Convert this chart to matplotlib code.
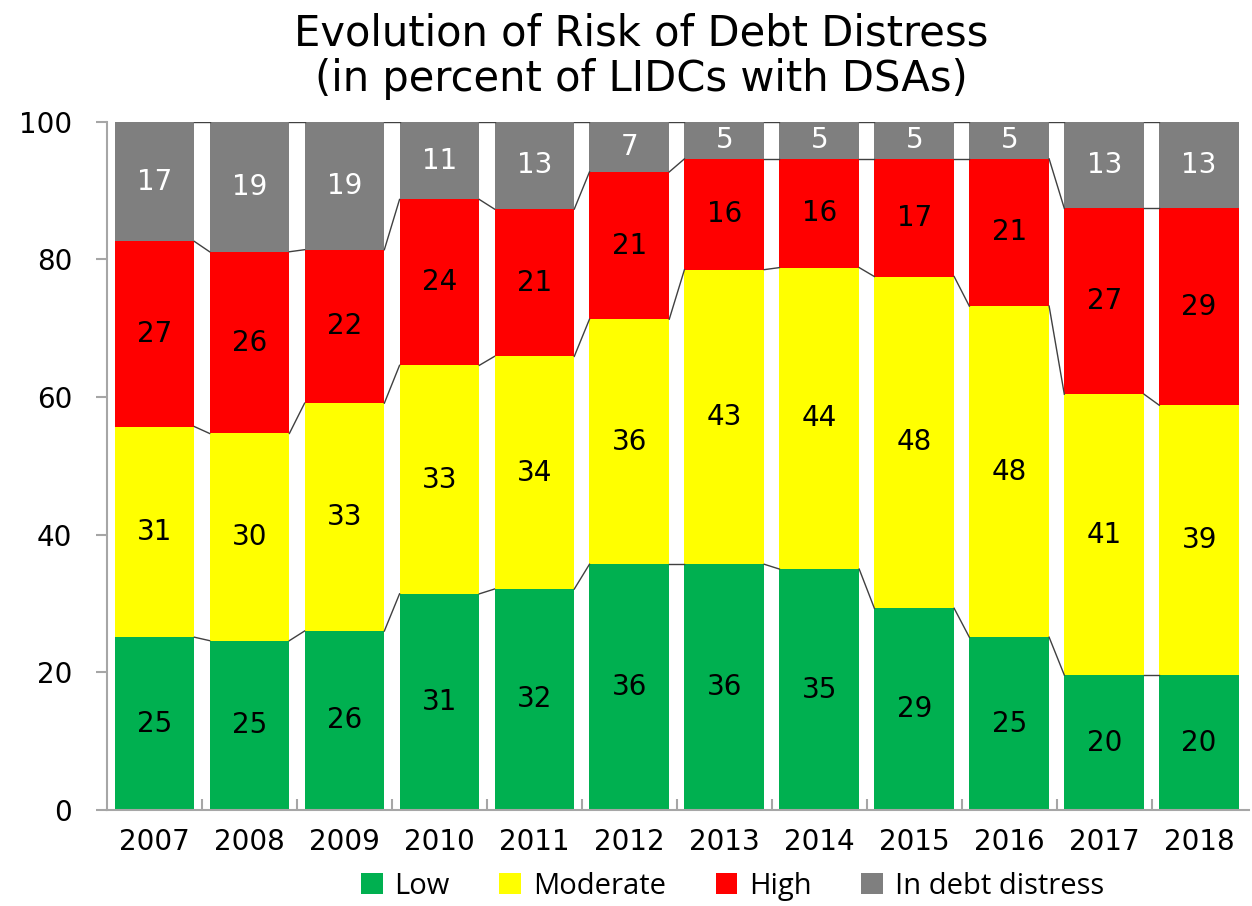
import numpy as np
import matplotlib.pyplot as plt
from matplotlib.patches import Patch

YEARS = ["2007", "2008", "2009", "2010", "2011", "2012",
         "2013", "2014", "2015", "2016", "2017", "2018"]
LOW = [25.1, 24.6, 26.0, 31.4, 32.1, 35.7, 35.7, 35.0, 29.3, 25.1, 19.6, 19.6]
MODERATE = [30.6, 30.1, 33.1, 33.2, 33.8, 35.6, 42.8, 43.8, 48.2, 48.1, 40.8, 39.2]
HIGH = [26.9, 26.4, 22.3, 24.1, 21.4, 21.4, 16.1, 15.8, 17.1, 21.4, 27.0, 28.6]
DISTRESS = [17.4, 18.9, 18.6, 11.3, 12.7, 7.3, 5.4, 5.4, 5.4, 5.4, 12.6, 12.6]

SERIES = ["Low", "Moderate", "High", "In debt distress"]
COLORS = ["#00B050", "#FFFF00", "#FF0000", "#7F7F7F"]
LABEL_COLORS = ["black", "black", "black", "white"]
WIDTH = 0.84


def run() -> None:
    fig = plt.figure(figsize=(12.52, 9.06), dpi=100)
    ax = fig.add_axes((0.0855, 0.106, 0.9125, 0.7597))

    x = np.arange(len(YEARS))
    data = [LOW, MODERATE, HIGH, DISTRESS]
    bottom = np.zeros(len(YEARS))
    tops = []
    for vals, col, lcol in zip(data, COLORS, LABEL_COLORS):
        vals = np.array(vals)
        ax.bar(x, vals, WIDTH, bottom=bottom, color=col, zorder=2)
        for xi, b, v in zip(x, bottom, vals):
            ax.text(xi, b + v / 2, f"{v:.0f}", ha="center", va="center",
                    fontsize=20, color=lcol, zorder=4)
        bottom = bottom + vals
        tops.append(bottom.copy())

    # Excel-style series lines between bars
    for top in tops:
        for i in range(len(YEARS) - 1):
            ax.plot([x[i] + WIDTH / 2, x[i + 1] - WIDTH / 2],
                    [top[i], top[i + 1]], color="#404040", lw=1, zorder=3)

    ax.set_xlim(-0.5, len(YEARS) - 0.47)
    ax.set_ylim(0, 100)
    ax.set_yticks([0, 20, 40, 60, 80, 100])
    ax.set_xticks(x, labels=YEARS)
    ax.set_xticks(x[:-1] + 0.5, minor=True)

    for side in ["top", "right"]:
        ax.spines[side].set_visible(False)
    for side in ["left", "bottom"]:
        ax.spines[side].set_color("#A6A6A6")
        ax.spines[side].set_linewidth(1.5)

    ax.tick_params(axis="y", length=8, width=1.5, color="#A6A6A6",
                   labelsize=20, pad=17)
    ax.tick_params(axis="x", which="major", length=0, labelsize=20, pad=13)
    ax.tick_params(axis="x", which="minor", length=8, width=1.5,
                   color="#A6A6A6", direction="in")

    fig.text(0.512, 0.963, "Evolution of Risk of Debt Distress",
             ha="center", va="center", fontsize=30)
    fig.text(0.512, 0.913, "(in percent of LIDCs with DSAs)",
             ha="center", va="center", fontsize=30)

    handles = [Patch(facecolor=c, edgecolor="none") for c in COLORS]
    fig.legend(handles, SERIES, loc="center", bbox_to_anchor=(0.585, 0.022),
               ncol=4, frameon=False, prop={"family": "Open Sans", "size": 21},
               handlelength=0.75, handleheight=0.75, handletextpad=0.4,
               columnspacing=1.7)

    fig.savefig("out.png", dpi=100)
    plt.close(fig)


if __name__ == "__main__":
    run()
